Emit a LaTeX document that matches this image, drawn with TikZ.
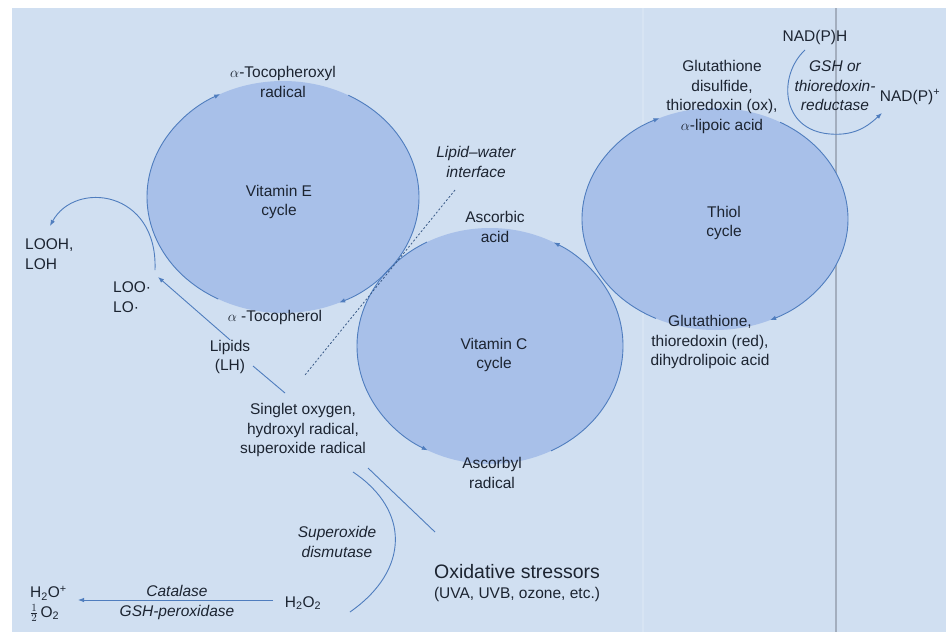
\documentclass[tikz,border=0pt]{standalone}
\usepackage{fontspec}
\setmainfont{Liberation Sans}
\usetikzlibrary{arrows.meta,shapes.geometric}
\definecolor{bgblue}{HTML}{D0DFF1}
\definecolor{cycfill}{HTML}{A8C0E9}
\definecolor{cycline}{HTML}{4F7DBE}
\definecolor{ink}{HTML}{1C2431}
\definecolor{gutter}{HTML}{A3AEBE}
\tikzset{
  cyc/.style={ellipse,fill=cycfill,inner sep=0pt},
  ring/.style={draw=cycline,line width=0.9pt,-{Latex[length=6pt,width=4.5pt]}},
  flow/.style={draw=cycline,line width=0.9pt},
  iface/.style={draw=cycline!70!black,line width=0.8pt,dash pattern=on 2pt off 2pt},
  lbl/.style={text=ink,inner sep=0pt,align=center,font=\fontsize{15.5}{19.5}\selectfont},
  enz/.style={lbl,font=\fontsize{15.5}{19.5}\selectfont\itshape},
}
\begin{document}
\begin{tikzpicture}[x=1pt,y=-1pt]
\useasboundingbox (0,0) rectangle (946,641);
\fill[white] (0,0) rectangle (946,641);
\fill[bgblue] (12,8) rectangle (946,632);
\draw[bgblue!85!white,line width=2pt] (643,8) -- (643,632);
\draw[gutter,line width=1.2pt] (836,8) -- (836,632);

% the three cycles
\node[cyc,minimum width=272pt,minimum height=232pt] (vitE) at (283,197) {};
\node[cyc,minimum width=266pt,minimum height=236pt] (vitC) at (490,346) {};
\node[cyc,minimum width=266pt,minimum height=222pt] (thiol) at (715,219) {};

\draw[ring] (vitE.center) ++(118.4:136 and 116) arc[start angle=118.4,end angle=242.5,x radius=136,y radius=116];
\draw[ring] (vitE.center) ++(-61.3:136 and 116) arc[start angle=-61.3,end angle=65.6,x radius=136,y radius=116];
\draw[ring] (vitC.center) ++(241.7:133 and 118) arc[start angle=241.7,end angle=117.9,x radius=133,y radius=118];
\draw[ring] (vitC.center) ++(62.7:133 and 118) arc[start angle=62.7,end angle=-61.4,x radius=133,y radius=118];
\draw[ring] (thiol.center) ++(116.4:133 and 111) arc[start angle=116.4,end angle=245.3,x radius=133,y radius=111];
\draw[ring] (thiol.center) ++(-60.7:133 and 111) arc[start angle=-60.7,end angle=65.5,x radius=133,y radius=111];

\node[lbl] (vitEtxt) at (279,202) {Vitamin E\\cycle};
\node[lbl] (vitCtxt) at (494,355) {Vitamin C\\cycle};
\node[lbl] (thioltxt) at (724,223) {Thiol\\cycle};

\node[lbl] (tocoxyl) at (283,82) {$\alpha$-Tocopheroxyl\\radical};
\node[lbl] (toco) at (275,317) {$\alpha$ -Tocopherol};
\node[lbl] (ascacid) at (495,227) {Ascorbic\\acid};
\node[lbl] (ascyl) at (492,473) {Ascorbyl\\radical};
\node[lbl] (gssg) at (722,97) {Glutathione\\disulfide,\\thioredoxin (ox),\\$\alpha$-lipoic acid};
\node[lbl] (gsh) at (710,342) {Glutathione,\\thioredoxin (red),\\dihydrolipoic acid};

% NAD(P)H side
\node[lbl] (nadph) at (815,37) {NAD(P)H};
\node[enz] (trxr) at (835,86) {GSH or\\thioredoxin-\\reductase};
\node[lbl] (nadp) at (910,97) {NAD(P)\textsuperscript{+}};
\coordinate (nadA) at (805,50);
\coordinate (nadB) at (882,113);
\draw[ring] (nadA) .. controls (778,75) and (780,130) .. (830,134) .. controls (855,136) and (868,126) .. (nadB);

% lipid side
\node[enz] (lipwater) at (476,162) {Lipid–water\\interface};
\coordinate (ifa) at (455,190);
\coordinate (ifb) at (305,375);
\draw[iface] (ifa) -- (ifb);

\node[lbl,anchor=west,align=left] (looh) at (25,254) {LOOH,\\LOH};
\node[lbl,anchor=west,align=left] (loo) at (113,297) {LOO·\\LO·};
\node[lbl] (lipids) at (230,357) {Lipids\\(LH)};
\node[lbl] (singlet) at (303,430) {Singlet oxygen,\\hydroxyl radical,\\superoxide radical};
\coordinate (lo) at (155,270);
\coordinate (lotip) at (158,277);
\coordinate (loohin) at (50,226);
\coordinate (lh) at (253,366);
\coordinate (so) at (285,393);
\draw[ring] (lo) .. controls (158,190) and (75,180) .. (loohin);
\draw[ring] (lipids.north) -- (lotip);
\draw[flow] (so) -- (lh);

% stressors
\node[enz] (sod) at (337,542) {Superoxide\\dismutase};
\node[text=ink,inner sep=0pt,font=\fontsize{19.5}{22}\selectfont] (stress) at (517,572) {Oxidative stressors};
\node[lbl] (uv) at (517,594) {(UVA, UVB, ozone, etc.)};
\coordinate (soda) at (353,472);
\coordinate (sodb) at (350,612);
\coordinate (osa) at (368,468);
\coordinate (osb) at (435,532);
\draw[flow] (soda) .. controls (410,510) and (410,570) .. (sodb);
\draw[flow] (osb) -- (osa);

% peroxide
\node[lbl] (h2o2) at (303,603) {H\textsubscript{2}O\textsubscript{2}};
\node[lbl,anchor=west,align=left] (prod) at (30,604) {H\textsubscript{2}O\textsuperscript{+}\\$\frac{1}{2}$\,O\textsubscript{2}};
\node[enz] (cat) at (177,591) {Catalase};
\node[enz] (gpx) at (177,612) {GSH-peroxidase};
\coordinate (catA) at (273,600);
\coordinate (catB) at (78,600);
\draw[ring] (catA) -- (catB);
\end{tikzpicture}
\end{document}
